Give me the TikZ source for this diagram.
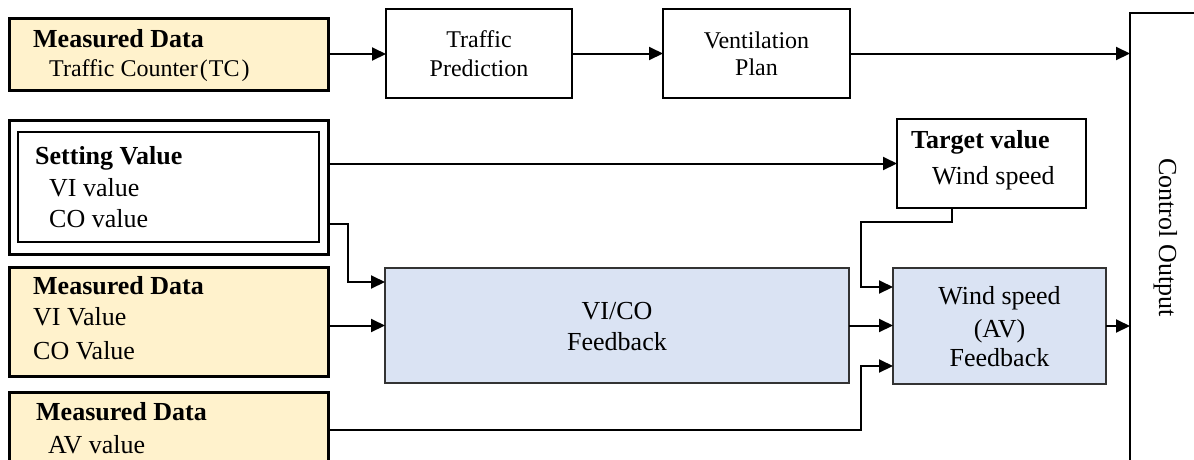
\documentclass[tikz,border=0pt]{standalone}
\usepackage{fontspec}
\setmainfont{Liberation Serif}
\usetikzlibrary{arrows.meta}
\definecolor{ylw}{HTML}{FFF2CC}
\definecolor{blu}{HTML}{DAE3F3}
\tikzset{
  box/.style={draw, inner sep=0pt, outer sep=0pt, anchor=north west},
  ybox/.style={box, line width=3pt, fill=ylw},
  wbox/.style={box, line width=2pt, fill=white},
  bbox/.style={box, line width=2pt, draw=black!80, fill=blu},
  conn/.style={line width=2pt},
  arr/.style={conn, -{Triangle[length=14pt,width=13pt]}},
  txt/.style={inner sep=0pt, anchor=base west, font=\fontsize{26}{30}\selectfont},
  btxt/.style={txt, font=\fontsize{26}{30}\selectfont\bfseries},
  stxt/.style={txt, font=\fontsize{24}{28}\selectfont},
  ctxt/.style={txt, anchor=base},
  sctxt/.style={stxt, anchor=base},
}
\begin{document}
\begin{tikzpicture}[x=1pt, y=-1pt]
\path[use as bounding box] (0,0) rectangle (1194,459);
\clip (0,0) rectangle (1194,459);
% boxes
\node[ybox, minimum width=319pt, minimum height=72pt] (tc) at (9,18) {};
\node[wbox, minimum width=186pt, minimum height=89pt] (tp) at (386,9) {};
\node[wbox, minimum width=187pt, minimum height=89pt] (vp) at (663,9) {};
\node[wbox, minimum width=100pt, minimum height=480pt] (ctrl) at (1130,13) {};
\node[wbox, line width=3pt, minimum width=319pt, minimum height=134pt] (svo) at (9,120) {};
\node[box, line width=1.5pt, minimum width=301pt, minimum height=110pt] (svi) at (18,132) {};
\node[wbox, minimum width=189pt, minimum height=89pt] (tv) at (897,119) {};
\node[ybox, minimum width=319pt, minimum height=109pt] (mv) at (9,267) {};
\node[bbox, minimum width=464pt, minimum height=115pt] (vico) at (385,268) {};
\node[bbox, minimum width=213pt, minimum height=116pt] (ws) at (893,268) {};
\node[ybox, minimum width=319pt, minimum height=76pt] (av) at (9,392) {};
% texts
\node[btxt] (tct1) at (33,47) {Measured Data};
\node[stxt] (tct2) at (49,76) {Traffic Counter\kern2pt(\kern1ptTC\kern2pt)};
\node[sctxt] (tpt1) at (479,47) {Traffic};
\node[sctxt] (tpt2) at (479,76) {Prediction};
\node[sctxt] (vpt1) at (756.5,48) {Ventilation};
\node[sctxt] (vpt2) at (756.5,75) {Plan};
\node[btxt] (svt1) at (35,164) {Setting Value};
\node[txt] (svt2) at (49,196) {VI value};
\node[txt] (svt3) at (49,227) {CO value};
\node[btxt] (tvt1) at (911,148) {Target value};
\node[txt] (tvt2) at (932,184) {Wind speed};
\node[btxt] (mvt1) at (33,294) {Measured Data};
\node[txt] (mvt2) at (33,325) {VI Value};
\node[txt] (mvt3) at (33,359) {CO Value};
\node[btxt] (avt1) at (36,420) {Measured Data};
\node[txt] (avt2) at (48,453) {AV value};
\node[ctxt] (vicot1) at (617,319) {VI/CO};
\node[ctxt] (vicot2) at (617,350) {Feedback};
\node[ctxt] (wst1) at (999.5,304) {Wind speed};
\node[ctxt] (wst2) at (999.5,337) {(AV)};
\node[ctxt] (wst3) at (999.5,366) {Feedback};
\node[ctxt, rotate=-90] (ctrlt) at (1159,237.5) {Control Output};
% helper coordinates
\coordinate (jx) at (861,0);
\coordinate (ws1) at ([yshift=39pt]ws.west);
\coordinate (ws3) at ([yshift=-40pt]ws.west);
\coordinate (vc1) at ([yshift=43.5pt]vico.west);
\coordinate (svco) at ([yshift=-37pt]svo.east);
\coordinate (tvb) at ([xshift=-39.5pt]tv.south);
% connectors
\draw[arr] (tc.east) -- (tc.east -| tp.west);
\draw[arr] (tp.east) -- (tp.east -| vp.west);
\draw[arr] (vp.east) -- (vp.east -| ctrl.west);
\draw[arr] (svo.east |- tv.west) -- (tv.west);
\draw[arr] (svco) -- ++(20,0) |- (vc1);
\draw[arr] (vico.west -| mv.east) -- (vico.west);
\draw[arr] (tvb) -- ++(0,14) -| (jx |- ws1) -- (ws1);
\draw[arr] (vico.east) -- (vico.east -| ws.west);
\draw[arr] (av.east) -- (av.east -| jx) |- (ws3);
\draw[arr] (ws.east) -- (ws.east -| ctrl.west);
\end{tikzpicture}
\end{document}
